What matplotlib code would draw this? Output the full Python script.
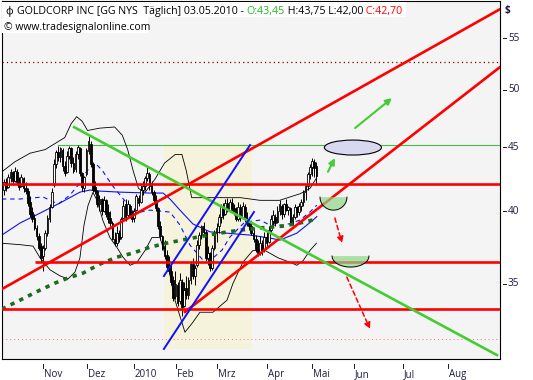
import numpy as np
import matplotlib
matplotlib.use("Agg")
import matplotlib.pyplot as plt
from matplotlib.patches import Ellipse, Polygon, Rectangle
from matplotlib.ticker import NullLocator
import matplotlib.transforms as mtransforms

plt.rcParams['font.family'] = ['Open Sans', 'DejaVu Sans']

# ---------------- data (bar index 0 = first visible bar, 144 = 03.05.2010) -------------
opens = [41.6, 42.2, 41.8, 42.5, 43.0, 42.3, 43.0, 42.2, 41.9, 42.5,
         41.7, 41.5, 40.7, 39.9, 39.5, 38.8, 38.2, 37.5, 36.8, 37.4,
         38.4, 39.4, 40.3, 42.0, 43.6, 44.6, 44.2, 44.8, 43.5, 43.0,
         44.3, 44.9, 43.7, 43.2, 44.4, 44.9, 42.9, 41.7, 42.8, 44.7,
         45.3, 43.6, 41.8, 41.5, 40.5, 40.9, 40.0, 40.8, 39.9, 39.5,
         39.1, 38.0, 37.7, 38.4, 38.1, 39.5, 40.5, 39.7, 40.4, 39.8,
         39.5, 40.1, 41.0, 40.7, 41.6, 41.9, 42.5, 42.8, 42.0, 41.4,
         40.8, 40.2, 38.9, 38.2, 37.5, 36.9, 36.2, 35.8, 35.2, 34.2,
         34.9, 33.9, 35.1, 33.6, 34.7, 34.3, 35.2, 36.3, 35.5, 36.2,
         37.6, 38.3, 38.9, 38.5, 36.7, 37.0, 36.0, 37.4, 38.4, 38.9,
         39.6, 40.2, 39.8, 40.6, 40.1, 40.6, 40.2, 39.9, 39.4, 40.3,
         39.6, 40.3, 39.4, 39.2, 38.9, 38.4, 38.0, 37.3, 37.0, 37.6,
         37.2, 38.1, 37.8, 38.6, 39.3, 39.6, 39.2, 40.0, 40.4, 39.8,
         40.5, 40.1, 40.2, 39.2, 39.6, 40.3, 39.9, 40.4, 40.7, 41.4,
         41.9, 42.8, 43.4, 43.8, 43.45]
highs = [42.4, 42.5, 42.8, 43.2, 43.1, 43.4, 43.2, 42.6, 42.8, 42.6,
         42.2, 41.7, 41.1, 40.3, 39.8, 39.0, 38.4, 37.7, 37.6, 38.6,
         39.7, 40.5, 41.7, 44.0, 44.8, 45.1, 45.0, 44.9, 43.9, 44.7,
         45.1, 45.0, 44.2, 44.7, 45.2, 45.0, 43.0, 42.7, 44.9, 45.9,
         45.5, 43.8, 42.3, 41.6, 41.2, 41.0, 41.1, 40.9, 40.5, 40.0,
         39.3, 38.5, 38.9, 38.6, 39.6, 40.8, 40.9, 40.8, 40.5, 40.1,
         40.2, 41.3, 41.2, 42.0, 42.3, 42.7, 43.4, 43.0, 42.3, 41.6,
         41.2, 40.3, 39.3, 38.3, 37.9, 37.2, 36.8, 36.2, 35.5, 35.8,
         35.1, 35.7, 35.3, 35.1, 35.5, 35.4, 36.5, 36.7, 36.2, 37.9,
         38.5, 39.0, 39.2, 38.6, 37.5, 37.1, 37.6, 38.6, 39.1, 39.8,
         40.5, 40.6, 40.9, 41.0, 40.9, 41.0, 40.5, 40.3, 40.7, 40.5,
         40.7, 40.5, 39.9, 39.6, 39.3, 38.8, 38.3, 37.9, 38.2, 37.9,
         38.5, 38.6, 38.9, 39.7, 40.1, 39.8, 40.4, 40.8, 40.5, 40.6,
         40.9, 40.4, 40.3, 39.8, 40.5, 40.4, 40.6, 40.9, 41.6, 42.0,
         43.0, 43.6, 44.1, 44.0, 43.75]
lows = [41.2, 41.5, 41.7, 42.2, 42.0, 42.2, 42.0, 41.6, 41.8, 41.4,
        41.3, 40.4, 39.6, 39.2, 38.6, 37.9, 37.2, 36.4, 35.8, 37.2,
        38.2, 39.2, 40.2, 41.8, 43.3, 43.9, 43.8, 43.1, 42.7, 42.9,
        44.0, 43.4, 42.9, 43.0, 44.0, 42.7, 41.5, 41.4, 42.7, 44.4,
        43.4, 41.4, 41.3, 40.3, 40.0, 39.7, 39.9, 39.6, 39.1, 38.9,
        37.9, 37.5, 37.5, 37.8, 38.0, 39.4, 39.3, 39.5, 39.5, 39.2,
        39.2, 40.0, 40.4, 40.6, 41.2, 41.6, 42.3, 41.6, 41.2, 40.5,
        40.0, 38.7, 37.9, 37.2, 36.6, 35.9, 35.6, 34.9, 33.9, 34.0,
        33.6, 33.7, 33.0, 33.5, 34.0, 34.0, 35.0, 35.3, 34.9, 36.1,
        37.3, 38.0, 38.2, 36.5, 36.2, 35.8, 35.9, 37.2, 37.8, 38.4,
        39.1, 39.4, 39.7, 39.9, 39.9, 40.0, 39.7, 39.3, 39.3, 39.3,
        39.5, 39.2, 38.9, 38.6, 38.3, 37.8, 37.1, 36.8, 36.9, 36.9,
        37.1, 37.5, 37.7, 38.4, 38.9, 38.9, 39.1, 39.7, 39.4, 39.6,
        40.0, 39.7, 39.0, 39.0, 39.4, 39.6, 39.7, 40.0, 40.4, 40.8,
        41.6, 42.4, 42.7, 42.6, 42.00]
closes = [42.2, 41.7, 42.6, 43.0, 42.3, 43.1, 42.2, 41.8, 42.6, 41.7,
          41.5, 40.6, 39.8, 39.4, 38.8, 38.2, 37.4, 36.7, 37.4, 38.4,
          39.5, 40.3, 41.4, 43.6, 44.6, 44.2, 44.9, 43.5, 42.9, 44.3,
          44.9, 43.7, 43.1, 44.4, 45.0, 42.9, 41.8, 42.6, 44.8, 45.5,
          43.6, 41.6, 41.5, 40.5, 40.9, 40.0, 40.8, 39.8, 39.4, 39.1,
          38.0, 37.7, 38.4, 38.0, 39.4, 40.4, 39.6, 40.5, 39.8, 39.4,
          40.0, 41.1, 40.6, 41.6, 41.9, 42.5, 42.9, 41.9, 41.4, 40.8,
          40.2, 38.9, 38.2, 37.4, 36.8, 36.1, 35.8, 35.1, 34.1, 35.0,
          33.8, 35.2, 33.5, 34.6, 34.3, 35.2, 36.3, 35.5, 36.0, 37.6,
          38.3, 38.9, 38.5, 36.7, 37.0, 36.0, 37.4, 38.5, 38.8, 39.6,
          40.3, 39.7, 40.6, 40.1, 40.7, 40.2, 39.9, 39.4, 40.3, 39.6,
          40.4, 39.4, 39.2, 38.9, 38.4, 38.0, 37.3, 37.0, 37.7, 37.2,
          38.1, 37.7, 38.6, 39.4, 39.7, 39.1, 40.0, 40.5, 39.8, 40.5,
          40.1, 40.3, 39.2, 39.6, 40.3, 39.9, 40.4, 40.7, 41.4, 41.9,
          42.8, 43.4, 43.9, 43.3, 42.70]

# Bollinger bands
bb_up_x = [-1, 5, 12, 19, 23.5, 28, 31, 33.5, 36, 38.5, 44, 51, 54.5, 57, 59.5, 62, 65,
           69.5, 74, 79, 82, 84, 86.5, 92.5, 99.5, 109, 118, 127, 136.5, 141, 144]
bb_up = [43.0, 43.8, 44.5, 44.8, 45.3, 45.8, 47.0, 47.6, 47.2, 46.4, 46.6, 46.7, 46.0, 44.8,
         43.1, 41.7, 41.4, 42.4, 43.7, 44.4, 44.4, 43.1, 41.0, 41.0, 41.0, 41.0, 40.8, 40.8,
         41.3, 41.7, 42.5]
bb_lo_x = [-1, 7.4, 13.4, 16.6, 21.2, 25.8, 29.5, 32.7, 35, 36.9, 38.7, 41, 42.9, 45.6,
           48.8, 52.1, 54.8, 58.1, 61.3, 65, 68.2, 71.9, 75.1, 78.8, 83.4, 87.1, 90.3, 96.3,
           102.8, 105.5, 110.1, 114.7, 120.3, 126.3, 131.8, 135, 137.8, 141, 144]
bb_lo = [37.7, 37.6, 37.5, 36.7, 35.9, 35.5, 35.3, 35.75, 36.7, 39.0, 40.4, 41.4, 40.8,
         39.3, 38.1, 37.4, 36.75, 36.2, 36.4, 37.2, 38.1, 38.1, 36.55, 33.95, 32.0, 32.6,
         33.2, 33.2, 33.95, 35.0, 36.4, 37.2, 37.2, 36.7, 36.4, 36.2, 36.5, 37.2, 37.7]
# moving averages
ma20_x = [-1, 7.4, 18, 25, 30.4, 35, 38.2, 41.9, 45.2, 49.8, 53.5, 60.4, 67.3, 76.5, 81.1,
          85.7, 91.7, 96.3, 100.5, 104.1, 111, 118, 122.6, 129.5, 136.4, 141, 144.2]
ma20 = [40.9, 40.9, 41.05, 40.52, 41.2, 42.12, 43.07, 43.7, 43.14, 41.96, 41.2, 39.85,
        40.07, 39.93, 38.98, 37.57, 36.55, 36.68, 37.23, 38.13, 39.2, 39.34, 38.98, 38.98,
        39.34, 39.93, 40.44]
ma50_x = [-1, 7.4, 16.6, 25.8, 35, 39.6, 44.2, 53.5, 67.3, 73.3, 76.5, 81.1, 87.1, 94.9,
          113.4, 122.6, 127.2, 135, 142.4, 144.2]
ma50 = [38.27, 39.13, 39.85, 40.6, 41.42, 41.58, 41.5, 41.42, 41.35, 41.35, 40.9, 40.07,
        39.06, 38.5, 38.27, 38.06, 37.92, 38.41, 39.34, 39.6]
ma200_x = [-1, 7.4, 16.6, 23.5, 29.5, 36.4, 44.2, 52.1, 59.4, 67.3, 75.1, 84.3, 91.7, 99.5,
           108.8, 118, 128.6, 136.4, 144.2]
ma200 = [33.39, 33.95, 34.58, 35.03, 35.36, 35.68, 36.28, 36.75, 37.02, 37.43, 37.71, 37.99,
         38.2, 38.41, 38.62, 38.77, 38.91, 39.13, 39.42]

# drawn lines (start/end points: bar index, price)
red_up_x, red_up_y = [-0.92, 228.6], [34.65, 58.02]
red_lo_x, red_lo_y = [83.4, 228.6], [33.22, 52.15]
green_x, green_y = [32.3, 227.2], [46.69, 30.68]
blue1_x, blue1_y = [73.7, 113.4], [35.49, 45.17]
blue2_x, blue2_y = [73.7, 115.2], [31.03, 39.93]
hlines_red = [(42.04, -0.92), (36.42, 14.3), (33.39, -0.92)]
hline_green = (45.17, 24.9)
dot_red_level = 31.60
dot_dark_level = 52.63

tick_pos = [18.0, 38.2, 59.9, 79.3, 98.2, 121.2, 141.9, 161.3, 183.9, 204.6]
tick_labels = ['Nov', 'Dez', '2010', 'Feb', 'Mrz', 'Apr', 'Mai', 'Jun', 'Jul', 'Aug']
y_ticks = [35, 40, 45, 50, 55]

# ---------------- figure --------------------------------------------------------------
W, H = 533, 380
fig = plt.figure(figsize=(W / 100, H / 100), dpi=100)
fig.patch.set_facecolor('white')
ax = fig.add_axes([2 / W, 21 / H, 498 / W, 358 / H])
ax.set_facecolor('#f4f4f4')
ax.set_yscale('log')
XMAX = 228.6
ax.set_xlim(-0.92, XMAX)
ax.set_ylim(30.46, 58.9)
for s in ax.spines.values():
    s.set_color('black')
    s.set_linewidth(0.8)
ax.xaxis.set_major_locator(NullLocator())
ax.xaxis.set_minor_locator(NullLocator())
ax.yaxis.set_major_locator(NullLocator())
ax.yaxis.set_minor_locator(NullLocator())

# shaded zone
ax.add_patch(Rectangle((73.7, 31.0), 40.6, 45.3 - 31.0, facecolor='#f5f3dc',
                       edgecolor='none', zorder=0.5))

# dotted horizontal levels
ax.plot([-0.92, XMAX], [dot_red_level] * 2, color='#ff7070', lw=0.7, ls=(0, (1, 3)), zorder=1)
ax.plot([-0.92, XMAX], [dot_dark_level] * 2, color='#800000', lw=0.9, ls=(0, (1, 2.5)), zorder=1)
ax.plot([hline_green[1], XMAX], [hline_green[0]] * 2, color='#40c040', lw=0.8, zorder=1)

# bands and averages
ax.plot(bb_up_x, bb_up, color='black', lw=0.6, zorder=2)
ax.plot(bb_lo_x, bb_lo, color='black', lw=0.6, zorder=2)
ax.plot(ma50_x, ma50, color='#1010ff', lw=0.8, zorder=2)
ax.plot(ma20_x, ma20, color='#1010ff', lw=0.8, ls=(0, (4, 3.5)), zorder=2)

# candles
idx = np.arange(len(closes))
o = np.array(opens); h = np.array(highs); l = np.array(lows); c = np.array(closes)
ax.vlines(idx, l, h, color='black', lw=0.7, zorder=3)
up = c >= o
bot = np.minimum(o, c)
hgt = np.maximum(np.abs(c - o), 0.05)
ax.bar(idx[up], hgt[up], bottom=bot[up], width=0.8, color='white', edgecolor='black',
       lw=0.6, zorder=4)
ax.bar(idx[~up], hgt[~up], bottom=bot[~up], width=0.8, color='black', edgecolor='black',
       lw=0.6, zorder=4)

# 200 day average (thick dotted dark green)
ax.plot(ma200_x, ma200, color='#1d6b1d', lw=2.6, ls=(0, (1.2, 1.5)), zorder=5)

# red horizontal levels
for lvl, x0 in hlines_red:
    ax.plot([x0, XMAX], [lvl, lvl], color='#ff0000', lw=1.9, zorder=6, solid_capstyle='butt')

# trend lines
ax.plot(red_up_x, red_up_y, color='#ff0000', lw=1.9, zorder=6)
ax.plot(red_lo_x, red_lo_y, color='#ff0000', lw=1.9, zorder=6)
ax.plot(green_x, green_y, color='#44cc33', lw=1.9, zorder=6)
ax.plot(blue1_x, blue1_y, color='#1010ff', lw=1.4, zorder=6)
ax.plot(blue2_x, blue2_y, color='#1010ff', lw=1.4, zorder=6)

# target ellipse
ax.add_patch(Ellipse((160.8, 44.97), 26.3, 1.24, facecolor='#d8d8f0', edgecolor='black',
                     lw=0.8, zorder=5))

# bowls
def bowl(cx, half, top, bottom, n=40):
    t = np.linspace(0, np.pi, n)
    xs = cx + half * np.cos(t)
    ys = np.exp(np.log(top) - (np.log(top) - np.log(bottom)) * np.sin(t))
    return xs, ys

for cx, half, top, bottom in [(151.85, 6.2, 41.04, 40.07), (159.7, 8.5, 36.82, 36.08)]:
    xs, ys = bowl(cx, half, top, bottom)
    ax.add_patch(Polygon(np.column_stack([xs, ys]), closed=True, facecolor='#8fd88a',
                         edgecolor='none', alpha=0.7, zorder=7))
    ax.plot(xs, ys, color='black', lw=0.7, zorder=7)

# arrows
arrow_g = dict(arrowstyle='-|>', color='#44cc33', lw=1.5, mutation_scale=9,
               shrinkA=0, shrinkB=0)
ax.annotate('', xy=(152.5, 44.1), xytext=(149.3, 43.0), arrowprops=arrow_g, zorder=8)
ax.annotate('', xy=(178.8, 49.25), xytext=(161.8, 46.61), arrowprops=arrow_g, zorder=8)
arrow_r = dict(arrowstyle='-|>', color='#ff0000', lw=1.1, ls=(0, (3, 2)), mutation_scale=9,
               shrinkA=0, shrinkB=0)
ax.annotate('', xy=(155.8, 37.71), xytext=(152.5, 39.49), arrowprops=arrow_r, zorder=8)
ax.annotate('', xy=(168.7, 32.19), xytext=(158.0, 35.42), arrowprops=arrow_r, zorder=8)

# x axis labels (custom: tick mark below the frame, label to its right)
tx = mtransforms.blended_transform_factory(ax.transData, ax.transAxes)
for p, lab in zip(tick_pos, tick_labels):
    ax.plot([p, p], [-0.013, -0.026], transform=tx, color='#202020', lw=0.7, clip_on=False)
    ax.text(p + 0.4, -0.029, lab, transform=tx, ha='left', va='top', fontsize=7,
            color='#1a1a40', clip_on=False)

# y axis labels on the right
ty = mtransforms.blended_transform_factory(ax.transAxes, ax.transData)
for v in y_ticks:
    ax.plot([1.006, 1.012], [v, v], transform=ty, color='#202020', lw=0.7, clip_on=False)
    ax.text(1.016, v, str(v), transform=ty, ha='left', va='center', fontsize=7.2,
            color='#1a1a40', clip_on=False)
fig.text(505 / W, 1 - 10 / H, '$', ha='left', va='center', fontsize=7.2, color='#1a1a40',
         fontweight='bold')

# header
fig.add_artist(Rectangle((2 / W, 1 - 17 / H), 404 / W, 15 / H, transform=fig.transFigure,
                         facecolor='white', edgecolor='none', zorder=5))
fig.add_artist(Rectangle((2 / W, 1 - 33 / H), 146 / W, 16 / H, transform=fig.transFigure,
                         facecolor='white', edgecolor='none', zorder=5))
fig.text(5 / W, 1 - 14 / H, 'ф', fontsize=7.7, color='black', va='baseline', zorder=6)
renderer = fig.canvas.get_renderer()
xpos = 17 / W
parts = [('GOLDCORP INC [GG NYS  Täglich] 03.05.2010 - ', 'black'), ('O:43,45', '#22b822'),
         (' H:43,75 L:42,00', 'black'), (' C:42,70', '#ff0000')]
for s, col in parts:
    t = fig.text(xpos, 1 - 14 / H, s, fontsize=7.7, color=col, va='baseline', zorder=6)
    bb = t.get_window_extent(renderer)
    xpos = bb.x1 / fig.bbox.width
fig.text(4 / W, 1 - 30 / H, '© www.tradesignalonline.com', fontsize=7.5, color='black',
         va='baseline', zorder=6)

fig.savefig('out.png', dpi=100, facecolor='white')
